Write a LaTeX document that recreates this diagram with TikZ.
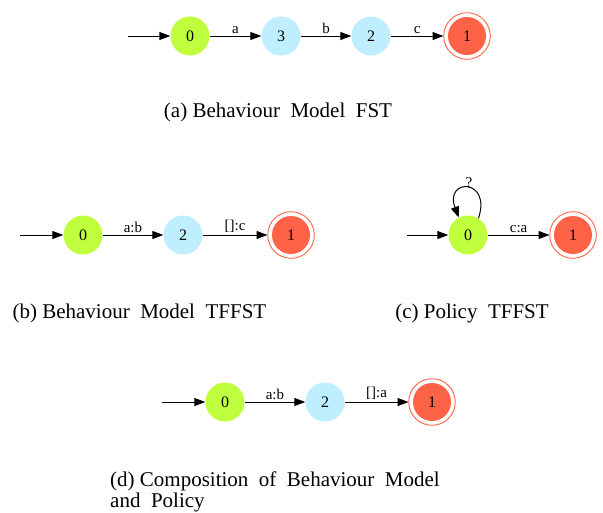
\documentclass[tikz,border=0pt]{standalone}
\usepackage{fontspec}
\setmainfont{Liberation Serif}
\usetikzlibrary{arrows.meta}
\definecolor{stgreen}{HTML}{C0FF3E}
\definecolor{stblue}{HTML}{BFEFFF}
\definecolor{stred}{HTML}{FF6347}
\tikzset{
  st/.style={circle,minimum size=39pt,inner sep=0pt,font=\fontsize{16}{18}\selectfont},
  stinit/.style={st,fill=stgreen},
  stmid/.style={st,fill=stblue},
  stfinal/.style={st,fill=stred,minimum size=38pt,outer sep=4.5pt,
    append after command={\pgfextra{\draw[stred,line width=0.9pt] (\tikzlastnode.center) circle (23.3pt);}}},
  tr/.style={-{Triangle[length=11pt,width=8pt]},line width=1pt},
  elab/.style={above,font=\fontsize{15}{17}\selectfont,inner sep=1.5pt},
  captxt/.style={font=\fontsize{21}{24}\selectfont}
}
\begin{document}
\begin{tikzpicture}[x=1pt,y=-1pt]
\useasboundingbox (0,0) rectangle (603,512);
% (a)
\coordinate (as) at (128,36);
\node[stinit] (a0) at (190,36) {0};
\node[stmid] (a3) at (281,36) {3};
\node[stmid] (a2) at (371,36) {2};
\node[stfinal] (a1) at (467,36) {1};
\draw[tr] (as) -- (a0);
\draw[tr] (a0) -- node[elab] {a} (a3);
\draw[tr] (a3) -- node[elab] {b} (a2);
\draw[tr] (a2) -- node[elab] {c} (a1);
\node[captxt] (capa) at (278,112) {(a) Behaviour\ \ Model\ \ FST};
% (b)
\coordinate (bs) at (20,235);
\node[stinit] (b0) at (83,235) {0};
\node[stmid] (b2) at (183,235) {2};
\node[stfinal] (b1) at (291,235) {1};
\draw[tr] (bs) -- (b0);
\draw[tr] (b0) -- node[elab] {a:b} (b2);
\draw[tr] (b2) -- node[elab] {[]:c} (b1);
\node[captxt,anchor=west] (capb) at (9,313) {(b) Behaviour\ \ Model\ \ TFFST};
% (c)
\coordinate (cs) at (407,235);
\node[stinit] (c0) at (468,235) {0};
\node[stfinal] (c1) at (573,235) {1};
\draw[tr] (cs) -- (c0);
\draw[tr] (c0) -- node[elab] {c:a} (c1);
\draw[tr] (c0.58) .. controls (492,178) and (444,178) .. (c0.118);
\node[font=\fontsize{15}{17}\selectfont] (cq) at (469,183) {?};
\node[captxt] (capc) at (472,313) {(c) Policy\ \ TFFST};
% (d)
\coordinate (ds) at (162,402);
\node[stinit] (d0) at (225,402) {0};
\node[stmid] (d2) at (325,402) {2};
\node[stfinal] (d1) at (432,402) {1};
\draw[tr] (ds) -- (d0);
\draw[tr] (d0) -- node[elab] {a:b} (d2);
\draw[tr] (d2) -- node[elab] {[]:a} (d1);
\node[captxt,anchor=north west,align=left,inner sep=0pt] (capd) at (110,472) {(d) Composition\ \ of\ \ Behaviour\ \ Model\\[-3pt]and\ \ Policy};
\end{tikzpicture}
\end{document}
